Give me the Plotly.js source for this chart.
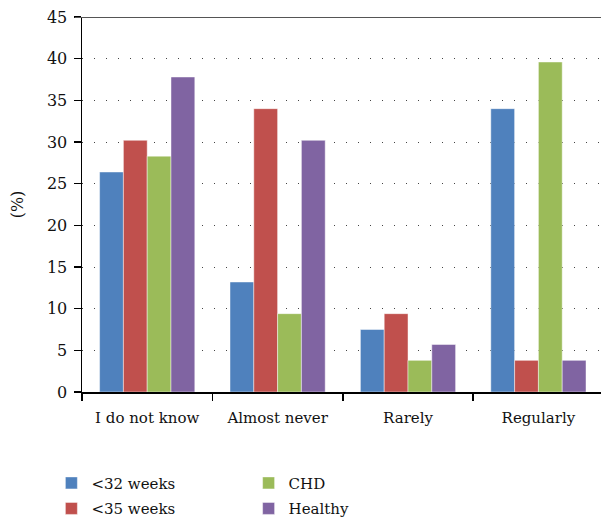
<!DOCTYPE html>
<html>
<head>
<meta charset="utf-8">
<script src="https://cdn.plot.ly/plotly-3.0.1.min.js"></script>
<style>html,body{margin:0;padding:0;background:#fff;}#chart{width:601px;height:522px;}</style>
</head>
<body>
<div id="chart"></div>
<script>
const categories = ["I do not know", "Almost never", "Rarely", "Regularly"];
const seriesNames = ["<32 weeks", "<35 weeks", "CHD", "Healthy"];
const weeks32 = [26.4, 13.2, 7.5, 34.0];
const weeks35 = [30.2, 34.0, 9.4, 3.8];
const chd = [28.3, 9.4, 3.8, 39.6];
const healthy = [37.8, 30.2, 5.7, 3.8];
const yTicks = [0, 5, 10, 15, 20, 25, 30, 35, 40, 45];

const colors = ["#4F81BD", "#C0504D", "#9BBB59", "#8064A2"];
const values = [weeks32, weeks35, chd, healthy];
const legends = ["legend", "legend", "legend2", "legend2"];

const font = {family: "DejaVu Serif", size: 15, color: "#111"};
const yFont = {family: "DejaVu Serif", size: 16, color: "#111"};

const traces = values.map((v, i) => ({
  type: "bar",
  x: categories,
  y: v,
  name: seriesNames[i],
  legend: legends[i],
  legendgroup: "g" + i,
  marker: {color: colors[i], line: {color: "rgba(255,255,255,0.45)", width: 1}},
  hoverinfo: "skip"
}));

const legendBase = {
  xref: "paper", yref: "container", xanchor: "left", yanchor: "top", y: 0.106,
  orientation: "v", font: font, bgcolor: "rgba(0,0,0,0)", tracegroupgap: 3
};

const layout = {
  width: 601, height: 522,
  margin: {l: 82, r: 0, t: 17, b: 130},
  paper_bgcolor: "#fff", plot_bgcolor: "#fff",
  font: font,
  barmode: "group",
  bargap: 0.27,
  bargroupgap: 0,
  xaxis: {
    type: "category",
    range: [-0.5, 3.48],
    showline: true, linecolor: "#000", linewidth: 1.5,
    ticks: "outside", tickson: "boundaries", ticklen: 7, tickcolor: "#000", tickwidth: 1.5,
    showgrid: false, zeroline: false,
    ticklabelstandoff: 11,
    tickfont: font
  },
  yaxis: {
    range: [0, 45],
    tickvals: yTicks,
    showline: true, linecolor: "#000", linewidth: 1.5,
    ticks: "outside", ticklen: 7, tickcolor: "#000", tickwidth: 1.5,
    showgrid: true, gridcolor: "#444", gridwidth: 1, griddash: "1px,11px",
    zeroline: false,
    ticklabelstandoff: 3,
    tickfont: yFont,
    title: {text: "(%)", font: yFont, standoff: 19}
  },
  shapes: [{
    type: "line", xref: "paper", yref: "y",
    x0: -0.014, x1: 1, y0: 45, y1: 45,
    line: {color: "#555", width: 2}
  }],
  legend: Object.assign({}, legendBase, {x: -0.059}),
  legend2: Object.assign({}, legendBase, {x: 0.321}),
  showlegend: true
};

Plotly.newPlot("chart", traces, layout, {displayModeBar: false, staticPlot: true});
</script>
</body>
</html>
